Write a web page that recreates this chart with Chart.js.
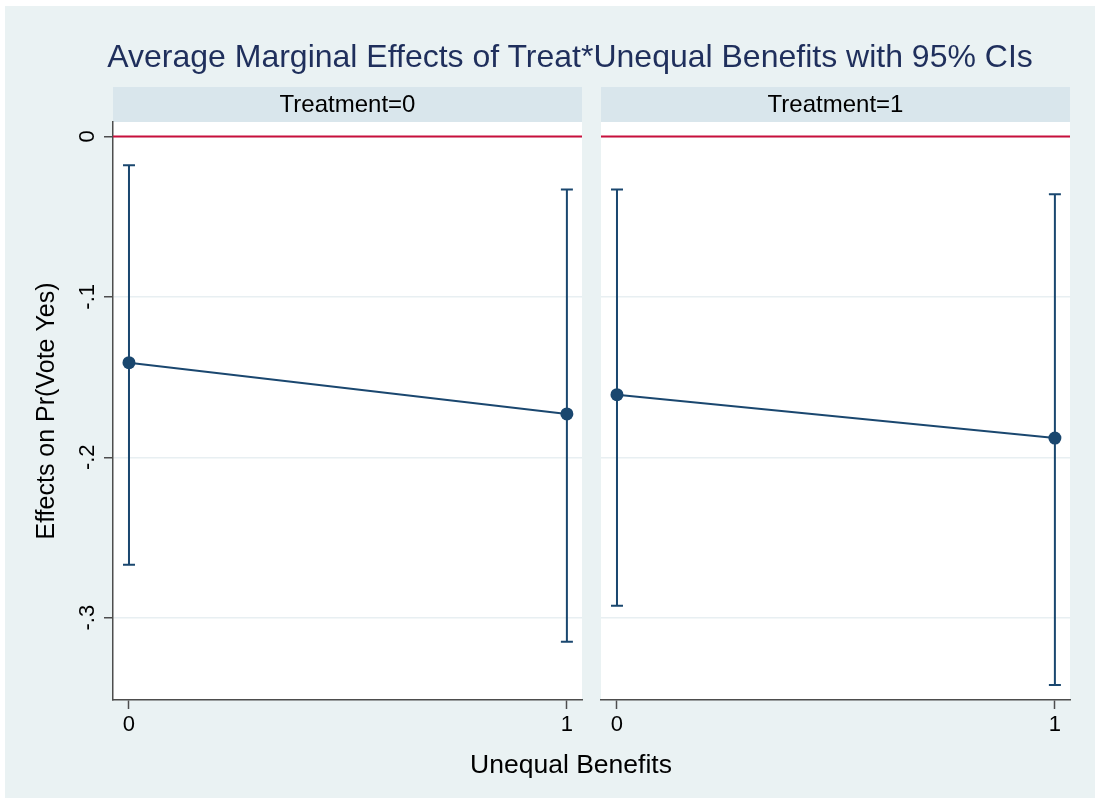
<!DOCTYPE html>
<html>
<head>
<meta charset="utf-8">
<title>Average Marginal Effects</title>
<script src="https://cdn.jsdelivr.net/npm/chart.js@4.4.0/dist/chart.umd.min.js"></script>
<style>
    html, body { margin: 0; padding: 0; background: #ffffff; }
    #frame { position: absolute; left: 5px; top: 6px; width: 1090px; height: 792px; background: #eaf2f3; }
    canvas { position: absolute; top: 0; }
    #c0 { left: 0; }
    #c1 { left: 590px; }
    .txt { position: absolute; text-align: center; font-family: "Liberation Sans", Arial, sans-serif; white-space: nowrap; }
    #title { left: 70px; width: 1000px; top: 37px; font-size: 32px; line-height: 38px; color: #1f2f5c; }
    #xtitle { left: 371px; width: 400px; top: 748px; font-size: 26.5px; line-height: 32px; color: #000; }
</style>
</head>
<body>
<div id="frame"></div>
<canvas id="c0" width="590" height="804"></canvas>
<canvas id="c1" width="510" height="804"></canvas>
<div id="title" class="txt">Average Marginal Effects of Treat*Unequal Benefits with 95% CIs</div>
<div id="xtitle" class="txt">Unequal Benefits</div>
<script>
// values
const panelLabels = ['Treatment=0', 'Treatment=1'];
const xCats = [0, 1];
const meanT0 = [-0.141, -0.173];
const lowT0 = [-0.267, -0.315];
const highT0 = [-0.018, -0.033];
const meanT1 = [-0.161, -0.188];
const lowT1 = [-0.2925, -0.342];
const highT1 = [-0.033, -0.036];
const yTicks = [0, -0.1, -0.2, -0.3];

const NAVY = '#1a476f';
const FONT = '"Liberation Sans", Arial, sans-serif';

function fmtTick(v) {
    if (Math.abs(v) < 1e-9) return '0';
    return v.toFixed(1).replace('0.', '.');
}

// header strip, white plot area, zero line, CI bars
function panelPlugin(label, lows, highs, showYLabels) {
    return {
        id: 'panel',
        beforeDraw(chart) {
            const ctx = chart.ctx, a = chart.chartArea;
            ctx.save();
            ctx.fillStyle = '#d9e6ec';
            ctx.fillRect(a.left, 87, a.right - a.left, 35);
            ctx.fillStyle = '#ffffff';
            ctx.fillRect(a.left, a.top, a.right - a.left, a.bottom - a.top);
            ctx.fillStyle = '#000';
            ctx.font = '24px ' + FONT;
            ctx.textAlign = 'center';
            ctx.textBaseline = 'middle';
            ctx.fillText(label, (a.left + a.right) / 2, 105);
            ctx.restore();
        },
        beforeDatasetsDraw(chart) {
            const ctx = chart.ctx, a = chart.chartArea;
            const xs = chart.scales.x, ys = chart.scales.y;
            ctx.save();
            // reference line at 0
            const y0 = ys.getPixelForValue(0);
            ctx.strokeStyle = '#c8103c';
            ctx.lineWidth = 2;
            ctx.beginPath();
            ctx.moveTo(a.left, y0);
            ctx.lineTo(a.right, y0);
            ctx.stroke();
            // confidence intervals
            ctx.strokeStyle = NAVY;
            ctx.lineWidth = 2;
            xCats.forEach((c, i) => {
                const x = xs.getPixelForValue(c);
                const yl = ys.getPixelForValue(lows[i]);
                const yh = ys.getPixelForValue(highs[i]);
                ctx.beginPath();
                ctx.moveTo(x, yl); ctx.lineTo(x, yh);
                ctx.moveTo(x - 6, yl); ctx.lineTo(x + 6, yl);
                ctx.moveTo(x - 6, yh); ctx.lineTo(x + 6, yh);
                ctx.stroke();
            });
            ctx.restore();
        },
        afterDraw(chart) {
            if (!showYLabels) return;
            const ctx = chart.ctx, ys = chart.scales.y;
            ctx.save();
            ctx.fillStyle = '#000';
            ctx.textAlign = 'center';
            ctx.textBaseline = 'middle';
            ctx.font = '22px ' + FONT;
            ys.ticks.forEach(t => {
                const y = ys.getPixelForValue(t.value);
                ctx.save();
                ctx.translate(88, y);
                ctx.rotate(-Math.PI / 2);
                ctx.fillText(fmtTick(t.value), 0, 0);
                ctx.restore();
            });
            ctx.font = '25px ' + FONT;
            ctx.translate(47, 411);
            ctx.rotate(-Math.PI / 2);
            ctx.fillText('Effects on Pr(Vote Yes)', 0, 0);
            ctx.restore();
        }
    };
}

function makePanel(id, label, means, lows, highs, first) {
    const ctx = document.getElementById(id).getContext('2d');
    return new Chart(ctx, {
        type: 'line',
        data: {
            datasets: [{
                data: xCats.map((x, i) => ({ x: x, y: means[i] })),
                borderColor: NAVY,
                borderWidth: 2,
                pointRadius: 6.5,
                pointBackgroundColor: NAVY,
                pointBorderWidth: 0,
                tension: 0
            }]
        },
        options: {
            responsive: false,
            animation: false,
            devicePixelRatio: 1,
            layout: {
                padding: first ? { top: 122, left: 0, right: 8, bottom: 0 }
                               : { top: 122, left: 11, right: 30, bottom: 0 }
            },
            plugins: {
                legend: { display: false },
                tooltip: { enabled: false }
            },
            scales: {
                x: {
                    type: 'linear',
                    min: -0.0365,
                    max: 1.0345,
                    afterBuildTicks: s => { s.ticks = xCats.map(v => ({ value: v })); },
                    ticks: {
                        color: '#000',
                        font: { family: FONT, size: 22 },
                        padding: 3,
                        maxRotation: 0,
                        callback: v => String(v)
                    },
                    grid: {
                        drawOnChartArea: false,
                        tickLength: 9,
                        tickColor: '#4d4d4d',
                        tickWidth: 1.5
                    },
                    border: { color: '#4d4d4d', width: 1.5 },
                    afterFit: s => { s.height = 104; }
                },
                y: {
                    type: 'linear',
                    min: -0.3513,
                    max: 0.009,
                    afterBuildTicks: s => { s.ticks = yTicks.map(v => ({ value: v })); },
                    ticks: { display: false },
                    grid: {
                        color: '#e8eff2',
                        lineWidth: 1.5,
                        drawTicks: first,
                        tickLength: 9,
                        tickColor: '#4d4d4d',
                        tickWidth: 1.5
                    },
                    border: first ? { color: '#4d4d4d', width: 1.5 } : { display: false },
                    afterFit: s => { s.width = first ? 113 : 0; }
                }
            }
        },
        plugins: [panelPlugin(label, lows, highs, first)]
    });
}

makePanel('c0', panelLabels[0], meanT0, lowT0, highT0, true);
makePanel('c1', panelLabels[1], meanT1, lowT1, highT1, false);
</script>
</body>
</html>
